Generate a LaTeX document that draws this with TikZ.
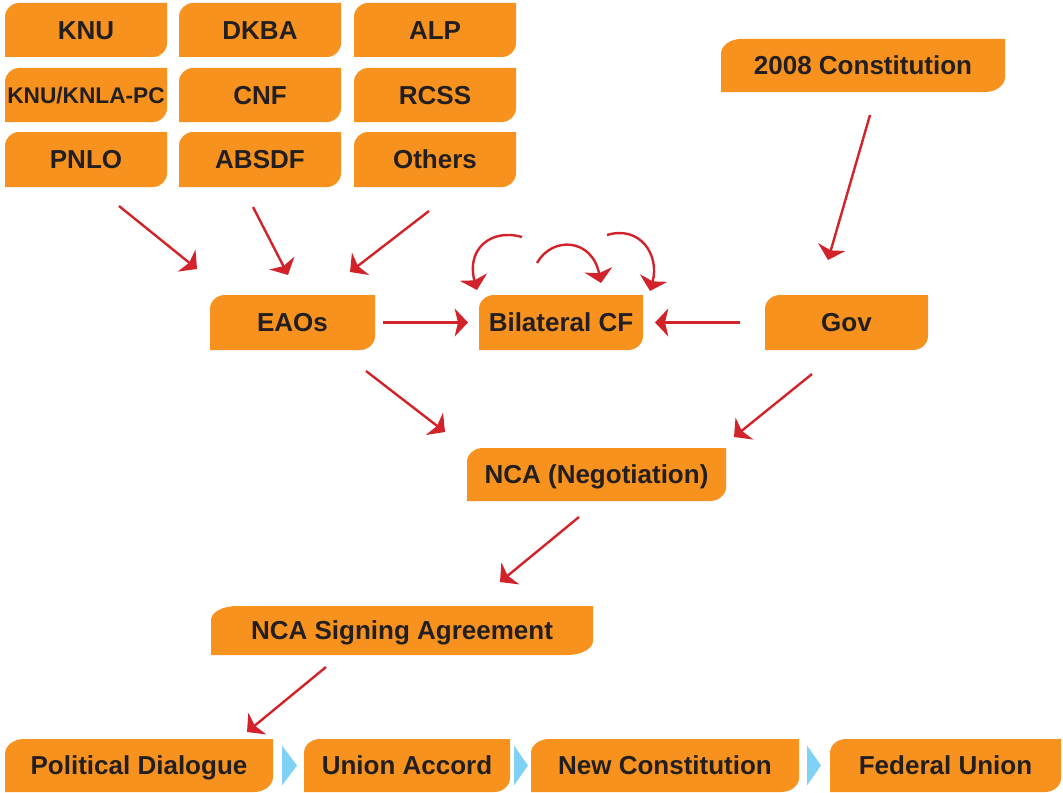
\documentclass[tikz,border=0pt]{standalone}
\usepackage{fontspec}
\setmainfont{Liberation Sans}
\usetikzlibrary{arrows.meta,calc,fit}
\definecolor{boxc}{HTML}{F7921E}
\definecolor{arrred}{HTML}{D2232A}
\definecolor{chev}{HTML}{7FD1F5}
\definecolor{txt}{HTML}{231F20}
\tikzset{
  boxframe/.style={inner sep=0pt, outer sep=0pt},
  lbl/.style={anchor=center, text=txt, inner sep=0pt, text height=14pt, text depth=0pt,
    font=\bfseries\fontsize{19.5}{22}\selectfont},
  smalllbl/.style={text height=12.2pt, font=\bfseries\fontsize{17}{20}\selectfont},
  arr/.style={draw=arrred, line width=1.8pt, -{Stealth[length=10pt,width=21pt,inset=2.5pt]}},
  chevron/.style={fill=chev},
}
% name, x1, y1, x2, y2, text, label style, corner rx (px), corner ry (px)
\newcommand\obox[9]{%
  \node[boxframe, fit={(#2,#3) (#4,#5)}] (#1) {};
  \fill[boxc] (#1.south west)
    -- ($(#1.north west)+(0pt,{-0.75pt*#9})$)
    .. controls ($(#1.north west)+(0pt,{-0.336pt*#9})$) and ($(#1.north west)+({0.336pt*#8},0pt)$)
    .. ($(#1.north west)+({0.75pt*#8},0pt)$)
    -- (#1.north east)
    -- ($(#1.south east)+(0pt,{0.75pt*#9})$)
    .. controls ($(#1.south east)+(0pt,{0.336pt*#9})$) and ($(#1.south east)+({-0.336pt*#8},0pt)$)
    .. ($(#1.south east)+({-0.75pt*#8},0pt)$)
    -- cycle;
  \node[lbl,#7] (#1-t) at (#1.center) {#6};
}
\begin{document}
\begin{tikzpicture}[x=0.75pt,y=-0.75pt]
\useasboundingbox (0,0) rectangle (1063,792);
% grid of groups
\obox{knu}{5}{3}{167}{57}{KNU}{}{14}{14}
\obox{dkba}{179}{3}{341}{57}{DKBA}{}{14}{14}
\obox{alp}{354}{3}{516}{57}{ALP}{}{14}{14}
\obox{knupc}{5}{68}{167}{122}{KNU/KNLA-PC}{smalllbl}{14}{14}
\obox{cnf}{179}{68}{341}{122}{CNF}{}{14}{14}
\obox{rcss}{354}{68}{516}{122}{RCSS}{}{14}{14}
\obox{pnlo}{5}{132}{167}{187}{PNLO}{}{14}{14}
\obox{absdf}{179}{132}{341}{187}{ABSDF}{}{14}{14}
\obox{others}{354}{132}{516}{187}{Others}{}{14}{14}
% others
\obox{const}{721}{39}{1005}{92}{2008 Constitution}{}{20}{15}
\obox{eaos}{210}{295}{375}{350}{EAOs}{}{15}{14}
\obox{bcf}{479}{295}{643}{350}{Bilateral CF}{}{15}{14}
\obox{gov}{765}{295}{928}{350}{Gov}{}{15}{14}
\obox{nca}{467}{448}{726}{501}{NCA (Negotiation)}{}{16}{14}
\obox{sign}{211}{606}{593}{655}{NCA Signing Agreement}{}{26}{14}
\obox{pd}{5}{739}{273}{792}{Political Dialogue}{}{19}{15}
\obox{ua}{304}{739}{510}{792}{Union Accord}{}{16}{14}
\obox{nc}{531}{739}{799}{792}{New Constitution}{}{18}{14}
\obox{fu}{830}{739}{1061}{792}{Federal Union}{}{16}{14}
% arrows
\draw[arr] ($(pnlo.south)+(33,19)$) -- ($(eaos.north west)+(-13,-26)$);
\draw[arr] ($(absdf.south)+(-7,20)$) -- ($(eaos.north)+(-4.5,-20)$);
\draw[arr] ($(others.south)+(-6,24)$) -- ($(eaos.north east)+(-25,-23)$);
\draw[arr] ($(const.south)+(7,23)$) -- ($(gov.north)+(-18.5,-35)$);
\draw[arr] ($(eaos.east)+(8,0)$) -- ($(bcf.west)+(-11,0)$);
\draw[arr] ($(gov.west)+(-25,0)$) -- ($(bcf.east)+(12,0)$);
\draw[arr] ($(eaos.south east)+(-9,21)$) -- ($(nca.north west)+(-22,-16)$);
\draw[arr] ($(gov.south)+(-34.5,24)$) -- ($(nca.north east)+(8,-11)$);
\draw[arr] ($(nca.south)+(-17.5,16)$) -- ($(sign.north)+(98,-24)$);
\draw[arr] ($(sign.south)+(-76,12)$) -- ($(pd.north east)+(-26,-7)$);
% loops above bilateral CF
\draw[arr] ($(bcf.north west)+(43,-58)$) .. controls ($(bcf.north west)+(11,-67)$) and ($(bcf.north west)+(-13,-45)$) .. ($(bcf.north west)+(-2,-5)$);
\draw[arr] ($(bcf.north west)+(58,-32)$) .. controls ($(bcf.north west)+(73,-59)$) and ($(bcf.north west)+(113,-57)$) .. ($(bcf.north west)+(122,-12)$);
\draw[arr] ($(bcf.north west)+(128,-60)$) .. controls ($(bcf.north west)+(161,-70)$) and ($(bcf.north west)+(181,-40)$) .. ($(bcf.north west)+(171,-4)$);
% chevrons
\fill[chevron] ($(pd.east)+(9,-20)$) -- ($(pd.east)+(24,0)$) -- ($(pd.east)+(9,20)$) -- cycle;
\fill[chevron] ($(ua.east)+(4,-20)$) -- ($(ua.east)+(18,0)$) -- ($(ua.east)+(4,20)$) -- cycle;
\fill[chevron] ($(nc.east)+(8,-20)$) -- ($(nc.east)+(22,0)$) -- ($(nc.east)+(8,20)$) -- cycle;
\end{tikzpicture}
\end{document}
